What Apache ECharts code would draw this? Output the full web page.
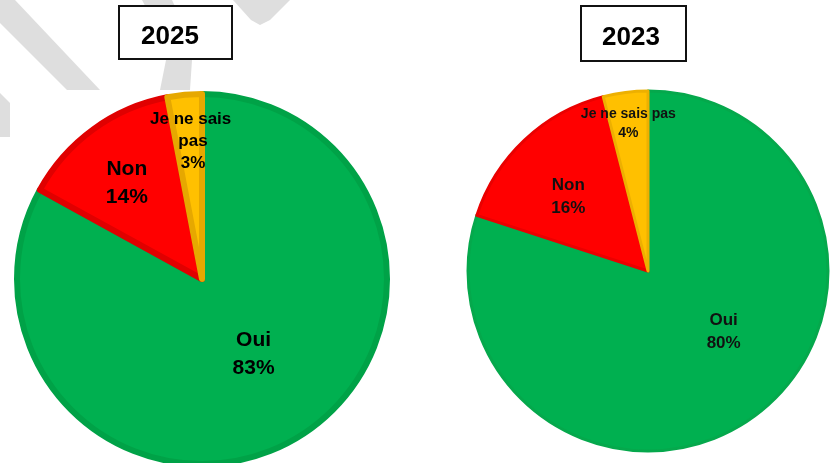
<!DOCTYPE html>
<html>
<head>
<meta charset="utf-8">
<script src="https://cdn.jsdelivr.net/npm/echarts@6/dist/echarts.min.js"></script>
<style>
  html, body { margin: 0; padding: 0; background: #ffffff; }
  #chart { width: 838px; height: 463px; }
</style>
</head>
<body>
<div id="chart"></div>
<script>
// ---- data ----
const categories = ['Oui', 'Non', 'Je ne sais pas'];
const values2025 = [83, 14, 3];
const values2023 = [80, 16, 4];
const titles = ['2025', '2023'];

// ---- styles ----
const fillColors = ['#00B050', '#FF0000', '#FFC000'];
const borderColors = ['#00A247', '#E00000', '#E6A800'];
const borderColors2 = ['#05A84C', '#EA0000', '#EDB000'];
const offsets2025 = [[3, -7], [-19, -19], [0, -43]];
const offsets2023 = [[21, -14], [-16, -6], [-8, -55]];

function buildData(values, offsets, borders) {
  return categories.map(function (name, i) {
    return {
      name: name,
      value: values[i],
      itemStyle: { color: fillColors[i], borderColor: borders[i] },
      label: { offset: offsets[i] }
    };
  });
}

const chart = echarts.init(document.getElementById('chart'), null, { renderer: 'canvas' });

const wm = '#dedede';
const data2025 = buildData(values2025, offsets2025, borderColors);
data2025[2].label.fontSize = 17;
data2025[2].label.lineHeight = 22;
data2025[2].label.width = 92;
data2025[2].label.overflow = 'break';
const data2023 = buildData(values2023, offsets2023, borderColors2);
data2023[2].label.fontSize = 14;
data2023[2].label.lineHeight = 19;

const option = {
  backgroundColor: '#ffffff',
  animation: false,
  graphic: [
    { type: 'polygon', z: 0, shape: { points: [[0, 0], [15, 0], [100, 90], [67, 90], [0, 23]] }, style: { fill: wm } },
    { type: 'polygon', z: 0, shape: { points: [[0, 93], [10, 103], [10, 137], [0, 137]] }, style: { fill: wm } },
    { type: 'polygon', z: 0, shape: { points: [[142, 0], [172, 0], [186, 30], [192, 60], [190, 90], [160, 90], [166, 60], [158, 30]] }, style: { fill: wm } },
    { type: 'polygon', z: 0, shape: { points: [[233, 0], [290, 0], [270, 20], [260, 25], [251, 20]] }, style: { fill: wm } }
  ],
  title: [
    {
      text: titles[0], left: 119, top: 6,
      padding: [18, 33, 9, 22],
      borderColor: '#111', borderWidth: 2, backgroundColor: '#ffffff',
      textStyle: { fontFamily: 'Liberation Sans, Arial, sans-serif', fontWeight: 'bold', fontSize: 26, color: '#000' }
    },
    {
      text: titles[1], left: 581, top: 6,
      padding: [19, 26, 10, 21],
      borderColor: '#111', borderWidth: 2, backgroundColor: '#ffffff',
      textStyle: { fontFamily: 'Liberation Sans, Arial, sans-serif', fontWeight: 'bold', fontSize: 26, color: '#000' }
    }
  ],
  series: [
    {
      type: 'pie',
      center: [202, 279],
      radius: 185,
      startAngle: 90,
      clockwise: true,
      silent: true,
      avoidLabelOverlap: false,
      labelLayout: { hideOverlap: false },
      itemStyle: { borderWidth: 6 },
      label: {
        show: true,
        position: 'inside',
        formatter: '{b}\n{c}%',
        fontFamily: 'Liberation Sans, Arial, sans-serif',
        fontWeight: 'bold',
        fontSize: 21,
        lineHeight: 28,
        color: '#000',
        align: 'center'
      },
      labelLine: { show: false },
      data: data2025
    },
    {
      type: 'pie',
      center: [648, 271],
      radius: 180,
      startAngle: 90,
      clockwise: true,
      silent: true,
      avoidLabelOverlap: false,
      labelLayout: { hideOverlap: false },
      itemStyle: { borderWidth: 3 },
      label: {
        show: true,
        position: 'inside',
        formatter: '{b}\n{c}%',
        fontFamily: 'Liberation Sans, Arial, sans-serif',
        fontWeight: 'bold',
        fontSize: 17,
        lineHeight: 23,
        color: '#111',
        align: 'center'
      },
      labelLine: { show: false },
      data: data2023
    }
  ]
};

chart.setOption(option);
</script>
</body>
</html>
